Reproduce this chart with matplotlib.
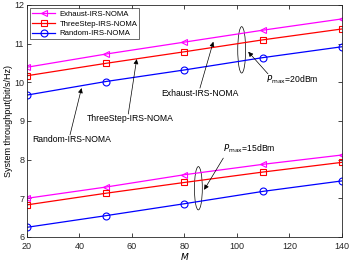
#! /usr/bin/env python3

import matplotlib
matplotlib.use("Agg")
from matplotlib import pyplot as plt
from matplotlib.patches import Ellipse

plt.rcParams["font.family"] = ["Liberation Sans", "DejaVu Sans"]
plt.rcParams["font.size"] = 6.5

M = [20, 50, 80, 110, 140]

# Pmax = 20 dBm
exhaust_20 = [10.39, 10.73, 11.04, 11.35, 11.64]
threestep_20 = [10.17, 10.49, 10.79, 11.10, 11.38]
random_20 = [9.67, 10.02, 10.32, 10.64, 10.92]

# Pmax = 15 dBm
exhaust_15 = [7.00, 7.29, 7.61, 7.88, 8.12]
threestep_15 = [6.83, 7.13, 7.41, 7.68, 7.93]
random_15 = [6.25, 6.55, 6.86, 7.18, 7.45]

names = ["Exhaust-IRS-NOMA", "ThreeStep-IRS-NOMA", "Random-IRS-NOMA"]


def main():
    fig = plt.figure(figsize=(3.5, 2.63), dpi=100)
    ax = fig.add_axes([0.077, 0.099, 0.9, 0.882])

    styles = [("#ff00ff", "<"), ("#ff0000", "s"), ("#0000ff", "o")]
    series_20 = [exhaust_20, threestep_20, random_20]
    series_15 = [exhaust_15, threestep_15, random_15]

    for (color, marker), name, ys in zip(styles, names, series_20):
        ax.plot(M, ys, color=color, marker=marker, markersize=5 if marker != "s" else 4.2,
                markerfacecolor="none", linewidth=0.9, markeredgewidth=0.8, label=name)
    for (color, marker), ys in zip(styles, series_15):
        ax.plot(M, ys, color=color, marker=marker, markersize=5 if marker != "s" else 4.2,
                markerfacecolor="none", linewidth=0.9, markeredgewidth=0.8)

    ax.set_xlim(20, 140)
    ax.set_ylim(6, 12)
    ax.set_xticks(range(20, 141, 20))
    ax.set_yticks(range(6, 13))
    ax.tick_params(direction="in", top=True, right=True, length=3, width=0.6,
                   colors="#262626", labelsize=6.5)
    ax.tick_params(axis="x", pad=3.5)
    ax.tick_params(axis="y", pad=2)
    for s in ax.spines.values():
        s.set_color("#262626")
        s.set_linewidth(0.6)

    ax.set_xlabel("$M$", labelpad=0)
    ax.set_ylabel("System throughput(bit/s/Hz)", labelpad=1)

    leg = ax.legend(loc="upper left", fontsize=5.6, frameon=True, fancybox=False,
                    edgecolor="#262626", borderpad=0.25, labelspacing=0.3,
                    handlelength=2.9, handletextpad=0.6, borderaxespad=0.45)
    leg.get_frame().set_linewidth(0.6)

    # ellipses grouping the curves
    ax.add_patch(Ellipse((101.8, 10.84), 3.0, 1.2, fill=False, color="black", linewidth=0.5))
    ax.add_patch(Ellipse((85.3, 7.26), 3.0, 1.12, fill=False, color="black", linewidth=0.5))

    arrow = dict(arrowstyle="-|>", color="black", linewidth=0.5, mutation_scale=7,
                 shrinkA=0, shrinkB=0)
    ax.annotate("", xy=(104.3, 10.79), xytext=(111.8, 10.22), arrowprops=arrow)
    ax.text(111.0, 10.06, "$P_{\\rm max}$=20dBm", fontsize=6.2, va="center")
    ax.annotate("", xy=(87.5, 7.22), xytext=(94.8, 8.04), arrowprops=arrow)
    ax.text(94.5, 8.28, "$P_{\\rm max}$=15dBm", fontsize=6.2, va="center")

    # curve labels
    ax.annotate("", xy=(40.8, 9.85), xytext=(36.4, 8.64), arrowprops=arrow)
    ax.text(37.0, 8.53, names[2], ha="center", va="center", fontsize=6.2)
    ax.annotate("", xy=(61.8, 10.60), xytext=(58.6, 9.18), arrowprops=arrow)
    ax.text(59.2, 9.07, names[1], ha="center", va="center", fontsize=6.2)
    ax.annotate("", xy=(91.0, 11.05), xytext=(85.9, 9.85), arrowprops=arrow)
    ax.text(85.9, 9.70, names[0], ha="center", va="center", fontsize=6.2)

    fig.savefig("out.png", dpi=100)


if __name__ == "__main__":
    main()
